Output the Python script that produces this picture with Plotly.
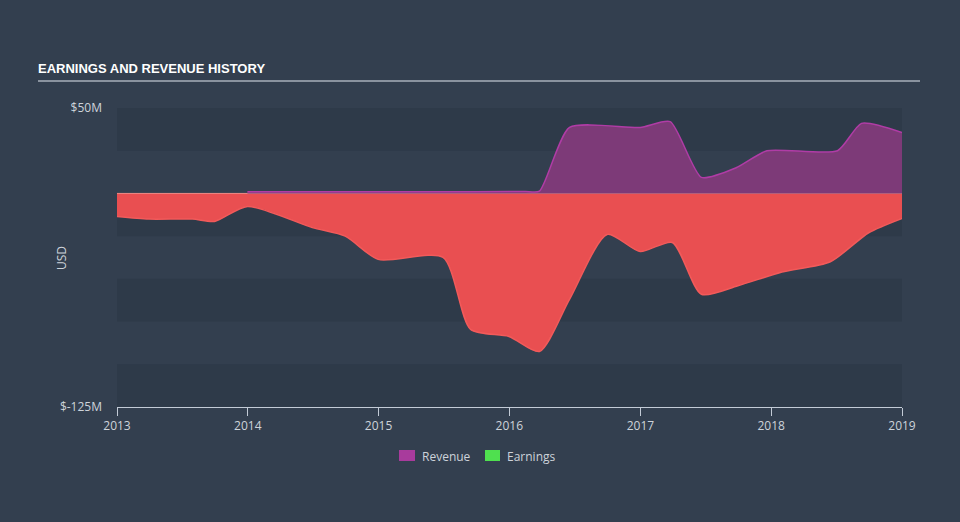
import plotly.graph_objects as go

# ---- data (USD millions) ----
earn_dates = ["2013-01-01", "2013-03-31", "2013-07-31", "2013-09-30", "2013-12-31",
              "2014-06-30", "2014-09-30", "2014-12-31", "2015-06-30", "2015-09-15",
              "2015-12-31", "2016-03-25", "2016-06-17", "2016-09-30", "2016-12-31",
              "2017-03-31", "2017-06-20", "2017-09-30", "2018-01-31", "2018-06-15",
              "2018-09-30", "2019-01-01"]
earnings = [-13.5, -15.0, -15.0, -16.4, -7.6,
            -20.0, -25.0, -38.6, -37.4, -79.6,
            -83.7, -92.5, -62.0, -24.0, -34.0,
            -28.7, -59.0, -54.0, -46.0, -40.0,
            -23.0, -14.6]

rev_dates = ["2013-12-31", "2014-06-30", "2014-12-31", "2015-06-30", "2015-12-31",
             "2016-02-15", "2016-03-25", "2016-06-17", "2016-12-31", "2017-03-25",
             "2017-06-20", "2017-09-25", "2017-12-20", "2018-07-05", "2018-09-10",
             "2019-01-01"]
revenue = [1.0, 1.0, 1.0, 1.0, 1.1,
           1.2, 1.3, 38.6, 38.6, 42.0,
           9.4, 15.0, 25.0, 25.0, 41.0,
           35.7]

year_ticks = ["2013-01-01", "2014-01-01", "2015-01-01", "2016-01-01",
              "2017-01-01", "2018-01-01", "2019-01-01"]
year_labels = ["2013", "2014", "2015", "2016", "2017", "2018", "2019"]
y_ticks = [50, -125]
y_labels = ["$50M", "$-125M"]
legend_names = ["Revenue", "Earnings"]
legend_colors = ["#a83b9c", "#4fe04f"]

BG = "#333f4f"
BAND = "#2e3a49"
TXT = "#cdd3da"

# plot area in pixels
L, R, T, B = 117, 902, 108, 407
W, H = R - L, B - T


def px(x):
    return (x - L) / W


def py(y):
    return (B - y) / H


fig = go.Figure()

fig.add_trace(go.Scatter(
    x=earn_dates, y=earnings, mode="lines", fill="tozeroy",
    line=dict(color="#f25a5a", width=1.5, shape="spline", smoothing=0.7),
    fillcolor="#e94f51", showlegend=False, hoverinfo="skip"))

fig.add_trace(go.Scatter(
    x=[year_ticks[0], year_ticks[-1]], y=[0, 0], mode="lines",
    line=dict(color="#f08a84", width=1), showlegend=False, hoverinfo="skip"))

fig.add_trace(go.Scatter(
    x=rev_dates, y=revenue, mode="lines", fill="tozeroy",
    line=dict(color="#b03ca6", width=1.5, shape="spline", smoothing=0.6),
    fillcolor="#7d3a78", showlegend=False, hoverinfo="skip"))

shapes = []
for lo, hi in [(25, 50), (-25, 0), (-75, -50), (-125, -100)]:
    shapes.append(dict(type="rect", xref="paper", yref="y", x0=0, x1=1, y0=lo, y1=hi,
                       fillcolor=BAND, line=dict(width=0), layer="below"))
# title underline
shapes.append(dict(type="line", xref="paper", yref="paper",
                   x0=px(38), x1=px(920), y0=py(81), y1=py(81),
                   line=dict(color="#a9b0ba", width=1.5)))

annotations = [
    dict(text="USD", xref="paper", yref="paper", x=px(61), y=py(258),
         showarrow=False, textangle=-90, xanchor="center", yanchor="middle",
         font=dict(size=12, color=TXT)),
]

# manual legend
leg = [(399, 415, 420), (485, 500, 505)]
for (x0, x1, tx), name, col in zip(leg, legend_names, legend_colors):
    shapes.append(dict(type="rect", xref="paper", yref="paper",
                       x0=px(x0), x1=px(x1), y0=py(450), y1=py(461),
                       fillcolor=col, line=dict(width=0)))
    annotations.append(dict(text=name, xref="paper", yref="paper",
                            x=px(tx), y=py(456), xanchor="left", yanchor="middle",
                            showarrow=False, font=dict(size=12, color=TXT)))

fig.update_layout(
    width=960, height=522,
    margin=dict(l=L, r=960 - R, t=T, b=522 - B, autoexpand=False),
    paper_bgcolor=BG, plot_bgcolor=BG,
    font=dict(family="Open Sans", color=TXT, size=12),
    shapes=shapes, annotations=annotations, showlegend=False,
    title=dict(text="EARNINGS AND REVENUE HISTORY",
               font=dict(family="Liberation Sans", size=13, color="#ffffff", weight="bold"),
               x=38 / 960, xanchor="left", xref="container",
               y=1 - 68 / 522, yanchor="middle", yref="container"),
    xaxis=dict(type="date", range=["2013-01-01", "2019-01-01"],
               tickvals=year_ticks, ticktext=year_labels, automargin=False,
               showgrid=False, zeroline=False,
               showline=True, linecolor="#c3cbd6", linewidth=1,
               ticks="outside", ticklen=8, tickcolor="#c3cbd6",
               tickfont=dict(size=12, color=TXT)),
    yaxis=dict(range=[-125, 50], tickvals=y_ticks, ticktext=y_labels,
               showgrid=False, zeroline=False, showline=False, automargin=False,
               ticks="", ticklabelstandoff=14,
               tickfont=dict(size=12, color=TXT)),
)

fig.write_html("out.html")
